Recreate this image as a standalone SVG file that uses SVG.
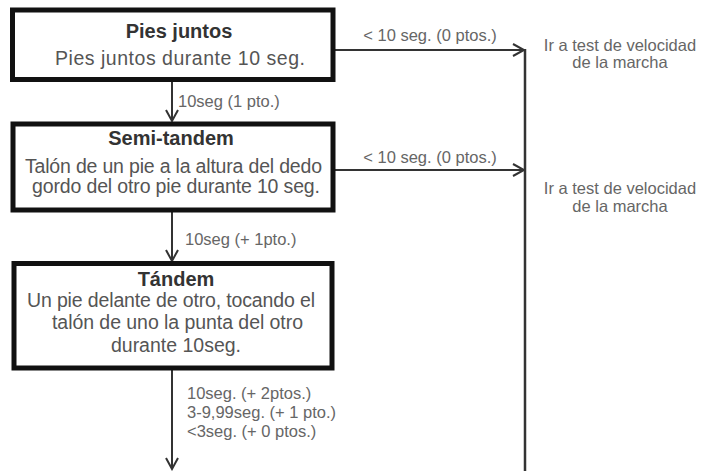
<svg xmlns="http://www.w3.org/2000/svg" width="706" height="471" viewBox="0 0 706 471">
<style>
.box{fill:#fff;stroke:#111;stroke-width:5}
.title{font-family:"Liberation Sans",Arial,sans-serif;font-weight:bold;font-size:20px;fill:#333;text-anchor:middle}
.body{font-family:"Liberation Sans",Arial,sans-serif;font-size:19.5px;fill:#555;text-anchor:middle}
.lbl{font-family:"Liberation Sans",Arial,sans-serif;font-size:16.5px;fill:#666}
.side{font-family:"Liberation Sans",Arial,sans-serif;font-size:16.5px;fill:#666;text-anchor:middle}
.conn{stroke:#333;stroke-width:2;fill:none}
</style>
<defs>
<marker id="ah" markerUnits="userSpaceOnUse" markerWidth="16" markerHeight="16" refX="12" refY="7" orient="auto">
<path d="M1,1 L12,7 L1,13" fill="none" stroke="#333" stroke-width="2"/>
</marker>
</defs>
<rect width="706" height="471" fill="#fff"/>
<g id="connectors">
<line class="conn" x1="172" y1="82" x2="172" y2="121" marker-end="url(#ah)"/>
<line class="conn" x1="172" y1="212" x2="172" y2="261" marker-end="url(#ah)"/>
<line class="conn" x1="172" y1="370" x2="172" y2="469" marker-end="url(#ah)"/>
<line class="conn" x1="335" y1="50" x2="524" y2="50" marker-end="url(#ah)"/>
<line class="conn" x1="335" y1="170" x2="524" y2="170" marker-end="url(#ah)"/>
<line stroke="#333" stroke-width="2.5" x1="525" y1="49" x2="525" y2="471"/>
<text class="lbl" x="178" y="107">10seg (1 pto.)</text>
<text class="lbl" x="185" y="245">10seg (+ 1pto.)</text>
<text class="lbl" x="187" y="399">10seg. (+ 2ptos.)</text>
<text class="lbl" x="187" y="418">3-9,99seg. (+ 1 pto.)</text>
<text class="lbl" x="187" y="437">&lt;3seg. (+ 0 ptos.)</text>
<text class="side" x="430" y="41">&lt; 10 seg. (0 ptos.)</text>
<text class="side" x="430" y="163">&lt; 10 seg. (0 ptos.)</text>
</g>
<g id="n1">
<rect class="box" x="12.5" y="10" width="320.5" height="69.5"/>
<text class="title" x="179" y="38">Pies juntos</text>
<text class="body" x="180" y="65" textLength="250" lengthAdjust="spacing">Pies juntos durante 10 seg.</text>
</g>
<g id="n2">
<rect class="box" x="13" y="124" width="320" height="86"/>
<text class="title" x="171" y="145">Semi-tandem</text>
<text class="body" x="173.5" y="173" textLength="297" lengthAdjust="spacing">Talón de un pie a la altura del dedo</text>
<text class="body" x="176" y="193" textLength="288" lengthAdjust="spacing">gordo del otro pie durante 10 seg.</text>
</g>
<g id="n3">
<rect class="box" x="14" y="263.5" width="318" height="104.5"/>
<text class="title" x="176" y="286">Tándem</text>
<text class="body" x="171" y="307" textLength="288" lengthAdjust="spacing">Un pie delante de otro, tocando el</text>
<text class="body" x="177.5" y="329" textLength="251" lengthAdjust="spacing">talón de uno la punta del otro</text>
<text class="body" x="176" y="352">durante 10seg.</text>
</g>
<g id="n4">
<text class="side" x="620" y="51">Ir a test de velocidad</text>
<text class="side" x="620" y="68">de la marcha</text>
</g>
<g id="n5">
<text class="side" x="620" y="194">Ir a test de velocidad</text>
<text class="side" x="620" y="212">de la marcha</text>
</g>
</svg>
